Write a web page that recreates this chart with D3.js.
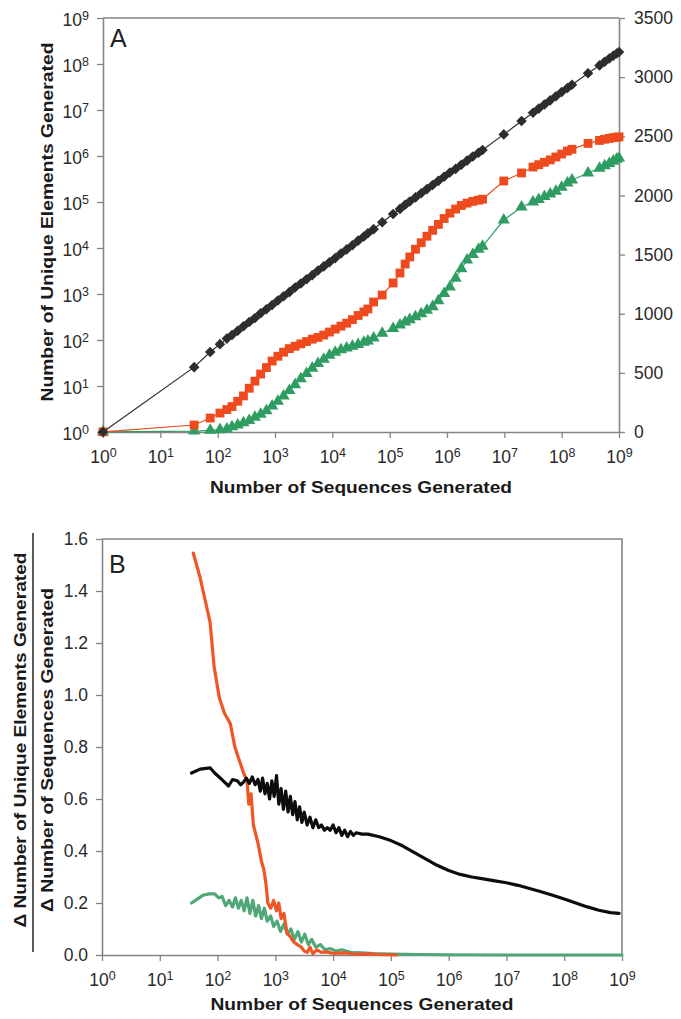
<!DOCTYPE html>
<html>
<head>
<meta charset="utf-8">
<script src="https://cdn.jsdelivr.net/npm/d3@7"></script>
<style>
  body { margin: 0; background: #fff; }
  svg { font-family: "Liberation Sans", Arial, sans-serif; }
</style>
</head>
<body>
<svg id="chart" width="681" height="1019"></svg>
<script>
// ---- data ----
// panel A: log10 of sequences generated, shared by the three series
const seqExp = [0, 1.59, 1.87, 2.04, 2.16,
  2.25, 2.35, 2.45, 2.55, 2.65, 2.75, 2.85, 2.95, 3.05, 3.15, 3.25, 3.35, 3.45, 3.55, 3.65, 3.75, 3.85, 3.95, 4.05, 4.15, 4.25, 4.35, 4.45,
  4.55, 4.62, 4.72, 4.87, 5.06, 5.18, 5.27,
  5.35, 5.45, 5.55, 5.65, 5.75, 5.85, 5.95, 6.05, 6.15, 6.25, 6.35, 6.45, 6.55,
  6.62, 6.99, 7.3, 7.5,
  7.6, 7.7, 7.8, 7.9, 8.0, 8.1,
  8.18, 8.46, 8.66, 8.75, 8.83, 8.9, 8.96, 9.0];
// black, left (log) axis, log10 of unique elements
const blackLog = [0, 1.41, 1.74, 1.91, 2.03,
  2.11, 2.2, 2.3, 2.39, 2.48, 2.58, 2.67, 2.76, 2.86, 2.95, 3.04, 3.14, 3.23, 3.32, 3.41, 3.51, 3.6, 3.69, 3.78, 3.88, 3.97, 4.06, 4.16,
  4.25, 4.32, 4.41, 4.56, 4.74, 4.85, 4.94,
  5.01, 5.1, 5.19, 5.28, 5.37, 5.46, 5.55, 5.64, 5.72, 5.81, 5.9, 5.99, 6.07,
  6.13, 6.47, 6.76, 6.94,
  7.03, 7.12, 7.21, 7.3, 7.39, 7.48,
  7.55, 7.8, 7.97, 8.05, 8.12, 8.18, 8.23, 8.26];
// red and green, right (linear) axis
const redCount = [1, 59, 118, 160, 190,
  215, 260, 305, 370, 430, 490, 545, 600, 640, 675, 705, 725, 745, 765, 785, 800, 820, 845, 870, 895, 920, 950, 985,
  1015, 1040, 1099, 1158, 1260, 1344, 1420,
  1480, 1545, 1600, 1655, 1705, 1755, 1805, 1850, 1885, 1915, 1935, 1950, 1960,
  1968, 2122, 2190, 2240,
  2260, 2280, 2300, 2325, 2350, 2375,
  2390, 2440, 2465, 2475, 2482, 2488, 2492, 2495];
const greenCount = [1, 8, 14, 20, 25,
  45, 60, 78, 98, 125, 150, 180, 220, 260, 305, 350, 400, 450, 495, 540, 580, 615, 648, 675, 695, 710, 725, 740,
  758, 770, 795, 835, 875, 905, 930,
  950, 975, 1000, 1030, 1060, 1110, 1170, 1226, 1300, 1380, 1454, 1500, 1545,
  1570, 1792, 1902, 1944,
  1965, 1990, 2012, 2035, 2070, 2105,
  2130, 2190, 2230, 2250, 2270, 2290, 2305, 2316];

// panel B: [log10 sequences, delta ratio]
const blackRate = [[1.55,0.70],[1.7,0.715],[1.87,0.72],[1.95,0.70],[2.05,0.68],[2.12,0.665],[2.19,0.65],[2.26,0.675],[2.34,0.67],[2.4,0.655],
  [2.45,0.665],[2.5,0.68],[2.55,0.66],[2.6,0.685],[2.65,0.655],[2.7,0.675],[2.74,0.63],[2.78,0.68],[2.82,0.62],[2.86,0.66],
  [2.9,0.60],[2.94,0.67],[2.98,0.61],[3.02,0.69],[3.06,0.58],[3.1,0.64],[3.14,0.56],[3.18,0.63],[3.22,0.55],[3.26,0.61],
  [3.3,0.54],[3.34,0.59],[3.38,0.52],[3.42,0.57],[3.46,0.51],[3.5,0.55],[3.55,0.5],[3.6,0.53],[3.65,0.49],[3.7,0.52],
  [3.75,0.49],[3.8,0.5],[3.85,0.48],[3.9,0.49],[3.95,0.48],[4.0,0.5],[4.05,0.47],[4.1,0.49],[4.15,0.46],[4.2,0.48],
  [4.25,0.455],[4.3,0.475],[4.35,0.46],[4.4,0.47],[4.5,0.465],[4.6,0.465],[4.8,0.455],[5.0,0.44],[5.2,0.42],[5.4,0.395],
  [5.6,0.37],[5.8,0.345],[6.0,0.325],[6.2,0.31],[6.4,0.30],[6.6,0.293],[6.8,0.285],[7.0,0.278],[7.2,0.268],[7.4,0.256],
  [7.6,0.243],[7.8,0.23],[8.0,0.215],[8.2,0.2],[8.4,0.185],[8.6,0.172],[8.8,0.163],[8.95,0.16]];
const redRate = [[1.58,1.546],[1.7,1.45],[1.8,1.35],[1.87,1.28],[1.94,1.11],[2.03,0.99],[2.12,0.93],[2.22,0.89],[2.3,0.8],[2.36,0.76],
  [2.45,0.7],[2.51,0.67],[2.54,0.58],[2.58,0.62],[2.62,0.5],[2.7,0.43],[2.76,0.36],[2.8,0.33],[2.84,0.27],[2.87,0.2],
  [2.92,0.18],[2.97,0.21],[3.02,0.17],[3.06,0.2],[3.1,0.14],[3.15,0.16],[3.2,0.085],[3.26,0.07],[3.32,0.05],[3.38,0.04],
  [3.45,0.03],[3.5,0.015],[3.55,0.01],[3.6,0.03],[3.65,0.005],[3.72,0.02],[3.8,0.01],[3.9,0.012],[4.0,0.006],[4.2,0.008],
  [4.4,0.003],[4.6,0.004],[4.8,0.002],[5.0,0.001],[5.1,0.0]];
const greenRate = [[1.55,0.2],[1.65,0.215],[1.75,0.23],[1.85,0.235],[1.95,0.235],[2.02,0.22],[2.08,0.225],[2.14,0.19],[2.2,0.21],[2.26,0.185],
  [2.31,0.22],[2.36,0.18],[2.41,0.21],[2.46,0.17],[2.51,0.22],[2.56,0.16],[2.61,0.21],[2.66,0.15],[2.71,0.19],[2.76,0.14],
  [2.81,0.18],[2.86,0.13],[2.92,0.15],[2.97,0.11],[3.03,0.13],[3.09,0.09],[3.15,0.12],[3.21,0.08],[3.27,0.1],[3.33,0.06],
  [3.39,0.09],[3.45,0.05],[3.51,0.08],[3.57,0.04],[3.63,0.06],[3.7,0.03],[3.78,0.04],[3.86,0.02],[3.95,0.025],[4.05,0.015],
  [4.15,0.02],[4.3,0.01],[4.5,0.008],[4.7,0.005],[5.0,0.003],[5.5,0.002],[6,0.001],[7,0],[8,0],[9,0]];

const decades = [0, 1, 2, 3, 4, 5, 6, 7, 8, 9];
const rightTicks = [0, 500, 1000, 1500, 2000, 2500, 3000, 3500];
const rateTicks = [0, 0.2, 0.4, 0.6, 0.8, 1.0, 1.2, 1.4, 1.6];

// ---- helpers ----
const svg = d3.select('#chart');
const grey = '#858585';
const font = '"Liberation Sans", Arial, sans-serif';

function styleAxis(g) {
  g.attr('font-size', 17.5).attr('font-family', font);
  g.select('.domain').attr('stroke', grey).attr('stroke-width', 1.6);
  g.selectAll('.tick line').attr('stroke', grey).attr('stroke-width', 1.3);
  g.selectAll('.tick text').attr('fill', '#2a2a2a');
}

function powerLabels(g) {
  g.selectAll('.tick text').text(null).each(function(d) {
    const t = d3.select(this);
    t.append('tspan').text('10');
    t.append('tspan').attr('dy', '-0.48em').attr('font-size', 12.5).text(Math.round(Math.log10(d)));
  });
}

// bold axis title stretched to the length measured on the figure
function title(g, x, y, rot, len, txt) {
  g.append('text')
    .attr('transform', `translate(${x},${y}) rotate(${rot})`)
    .attr('text-anchor', 'middle')
    .attr('font-size', 16.5).attr('font-weight', 'bold').attr('fill', '#1a1a1a')
    .attr('textLength', len).attr('lengthAdjust', 'spacingAndGlyphs')
    .text(txt);
}

const decadeVals = decades.map(e => 10 ** e);

// ================= panel A =================
const xA = d3.scaleLog().domain([1, 1e9]).range([103, 619]);
const yLog = d3.scaleLog().domain([1, 1e9]).range([432, 18]);
const yLin = d3.scaleLinear().domain([0, 3500]).range([432, 18]);

const panelA = svg.append('g');

panelA.append('line')
  .attr('x1', xA(1)).attr('x2', xA(1e9))
  .attr('y1', yLog(1e9)).attr('y2', yLog(1e9))
  .attr('stroke', grey).attr('stroke-width', 1.6);

const xAxisA = panelA.append('g')
  .attr('transform', `translate(0,${yLog(1)})`)
  .call(d3.axisBottom(xA).tickValues(decadeVals).tickSize(6).tickSizeOuter(0).tickPadding(7));
styleAxis(xAxisA);
powerLabels(xAxisA);
xAxisA.selectAll('.tick text').attr('dy', '1.05em');

const yAxisA = panelA.append('g')
  .attr('transform', `translate(${xA(1)},0)`)
  .call(d3.axisLeft(yLog).tickValues(decadeVals).tickSize(6).tickSizeOuter(0).tickPadding(8));
styleAxis(yAxisA);
powerLabels(yAxisA);
yAxisA.selectAll('.tick text').attr('dy', '0.45em');

const rAxisA = panelA.append('g')
  .attr('transform', `translate(${xA(1e9)},0)`)
  .call(d3.axisRight(yLin).tickValues(rightTicks).tickSize(6).tickSizeOuter(0).tickPadding(9).tickFormat(d3.format('d')));
styleAxis(rAxisA);

const blackPts = seqExp.map((e, i) => [10 ** e, 10 ** blackLog[i]]);
const redPts = seqExp.map((e, i) => [10 ** e, redCount[i]]);
const greenPts = seqExp.map((e, i) => [10 ** e, greenCount[i]]);

const lineLog = d3.line().x(d => xA(d[0])).y(d => yLog(d[1]));
const lineLin = d3.line().x(d => xA(d[0])).y(d => yLin(d[1]));

const seriesA = [
  { pts: greenPts, line: lineLin, y: yLin, color: '#2f9c62', symbol: d3.symbolTriangle, size: 64, rot: 0 },
  { pts: redPts, line: lineLin, y: yLin, color: '#ee4a1e', symbol: d3.symbolSquare, size: 78, rot: 0 },
  { pts: blackPts, line: lineLog, y: yLog, color: '#2d2d2d', symbol: d3.symbolSquare, size: 56, rot: 45 }
];

seriesA.forEach(s => {
  panelA.append('path')
    .attr('d', s.line(s.pts))
    .attr('fill', 'none')
    .attr('stroke', s.color)
    .attr('stroke-width', 1.2);
  panelA.append('g').selectAll('path')
    .data(s.pts)
    .enter()
    .append('path')
    .attr('d', d3.symbol().type(s.symbol).size(s.size))
    .attr('transform', d => `translate(${xA(d[0])},${s.y(d[1])}) rotate(${s.rot})`)
    .attr('fill', s.color);
});

panelA.append('text')
  .attr('x', 110).attr('y', 47)
  .attr('font-size', 25).attr('fill', '#222')
  .text('A');

title(panelA, 361, 493, 0, 302, 'Number of Sequences Generated');
title(panelA, 53, 222, -90, 359, 'Number of Unique Elements Generated');

// ================= panel B =================
const xB = d3.scaleLog().domain([1, 1e9]).range([102, 622]);
const yB = d3.scaleLinear().domain([0, 1.6]).range([955, 539]);

const panelB = svg.append('g');

panelB.append('path')
  .attr('d', `M${xB(1)},${yB(1.6)}H${xB(1e9)}V${yB(0)}`)
  .attr('fill', 'none').attr('stroke', grey).attr('stroke-width', 1.6);

const xAxisB = panelB.append('g')
  .attr('transform', `translate(0,${yB(0)})`)
  .call(d3.axisBottom(xB).tickValues(decadeVals).tickSize(6).tickSizeOuter(0).tickPadding(7));
styleAxis(xAxisB);
powerLabels(xAxisB);
xAxisB.selectAll('.tick text').attr('dy', '1.05em');

const yAxisB = panelB.append('g')
  .attr('transform', `translate(${xB(1)},0)`)
  .call(d3.axisLeft(yB).tickValues(rateTicks).tickSize(6).tickSizeOuter(0).tickPadding(8).tickFormat(d3.format('.1f')));
styleAxis(yAxisB);

const lineB = d3.line().x(d => xB(10 ** d[0])).y(d => yB(d[1]));

[
  { pts: greenRate, color: '#4fa877' },
  { pts: redRate, color: '#ef5525' },
  { pts: blackRate, color: '#0d0d0d' }
].forEach(s => {
  panelB.append('path')
    .attr('d', lineB(s.pts))
    .attr('fill', 'none')
    .attr('stroke', s.color)
    .attr('stroke-width', 3.2)
    .attr('stroke-linejoin', 'round')
    .attr('stroke-linecap', 'round');
});

panelB.append('text')
  .attr('x', 109).attr('y', 573)
  .attr('font-size', 25).attr('fill', '#222')
  .text('B');

title(panelB, 362, 1010, 0, 303, 'Number of Sequences Generated');
title(panelB, 26, 740, -90, 375, 'Δ Number of Unique Elements Generated');

panelB.append('line')
  .attr('x1', 33).attr('x2', 33)
  .attr('y1', 533).attr('y2', 952)
  .attr('stroke', '#333').attr('stroke-width', 1.6);

title(panelB, 53, 750, -90, 324, 'Δ Number of Sequences Generated');
</script>
</body>
</html>
